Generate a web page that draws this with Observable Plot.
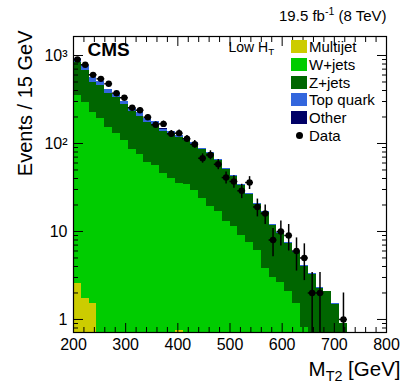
<!DOCTYPE html>
<html><head><meta charset="utf-8">
<script src="https://cdn.jsdelivr.net/npm/d3@7"></script>
<script src="https://cdn.jsdelivr.net/npm/@observablehq/plot@0.6"></script>
<style>
body{margin:0;background:#fff;}
#wrap{position:relative;width:407px;height:392px;font-family:"Liberation Sans",Arial,Helvetica,sans-serif;}
#legend{position:absolute;left:291px;top:40px;font-size:15px;line-height:1;}
#legend .row{position:relative;height:17.8px;}
#legend .box{position:absolute;left:0;top:0;width:16px;height:13px;}
#legend .dot{position:absolute;left:5px;top:3px;width:7px;height:7px;border-radius:50%;background:#000;}
#legend .lab{position:absolute;left:18px;top:-1px;white-space:nowrap;}
</style></head><body><div id="wrap"><div id="legend"></div></div>
<script>
// ---- data (MT2 bins of 15 GeV, low-edge) ----
const binLow = [200,215,230,245,260,275,290,305,320,335,350,365,380,395,410,425,440,455,470,485,500,515,530,545,560,575,590,605,620,635,650,665,680,695,710];
const binWidth = 15;
const multijet = [2.55,1.72,1.5,0,0,0,0,0,0,0,0,0,0,0.75,0,0,0,0,0,0,0,0,0,0,0,0,0,0,0,0,0,0,0,0,0];
const wjets = [348,290,226,191,153,130,107,85,75,61,56,46,40,34,34,29,24,19,17,13,11.4,9.0,7.4,6.1,3.8,3.0,2.6,2.1,1.5,0.8,0,0,0,0,0];
const zjets = [472,380,265,264,213,200,167,145,127,113,110,90,88,81,74,69,61,57,47,38,31,24,18.7,14.2,12.6,8.6,6.9,5.2,4.3,3.2,3.25,2.25,2.07,1.48,0.89];
const topquark = [91,95,75,46,44,29,28,21,21,16,12,10,9,7,6,4,3,2.5,2,1.5,1.2,1,0.8,0.6,0.5,0.3,0.25,0.2,0.15,0.1,0.05,0.05,0.03,0.02,0.01];
const other = [3,2.5,2,1.6,1.4,1.2,1,0.9,0.8,0.7,0.6,0.5,0.45,0.4,0.35,0.3,0.25,0.2,0.18,0.15,0.12,0.1,0.08,0.06,0.05,0.04,0.03,0.02,0.02,0.01,0.01,0.01,0,0,0];
const dataCounts = [901,784,603,543,477,373,331,255,239,199,163,167,129,131,113,98,68,74,58,41,37,29,36,19,16,8,10,9,6,5,2,2,0,0,1];

const seriesNames = ["Multijet","W+jets","Z+jets","Top quark","Other"];
const seriesColors = ["#cccc00","#00cc00","#006600","#3366dd","#000066"];
const seriesValues = [multijet, wjets, zjets, topquark, other];

const xMajor = [200,300,400,500,600,700,800];
const xMinor = [220,240,260,280,320,340,360,380,420,440,460,480,520,540,560,580,620,640,660,680,720,740,760,780];
const yMajor = [1,10,100,1000];
const yMajorLabels = ["1","10","10²","10³"];
const yMinor = [0.8,0.9,2,3,4,5,6,7,8,9,20,30,40,50,60,70,80,90,200,300,400,500,600,700,800,900];

const yMin = 0.711, yMax = 1644;

// ---- stacked rows ----
const stackRows = [];
binLow.forEach((x0, i) => {
  let cum = 0;
  seriesValues.forEach((vals, s) => {
    const lo = cum; cum += vals[i];
    if (vals[i] > 0 && cum > yMin) {
      stackRows.push({s, x1: x0, x2: x0 + binWidth, lo: Math.max(lo, yMin * 0.5), hi: cum});
    }
  });
});
const dataRows = binLow.map((x0, i) => ({x0, xc: x0 + binWidth / 2, n: dataCounts[i]})).filter(d => d.n > 0);

const tickStyle = {stroke: "black", strokeWidth: 1};
const blank = () => "";

const marks = [];
seriesValues.forEach((_, s) => {
  marks.push(Plot.rectY(stackRows.filter(r => r.s === s), {
    x1: "x1", x2: "x2", y1: "lo", y2: "hi", fill: seriesColors[s], clip: true, inset: 0, shapeRendering: "crispEdges"
  }));
});
marks.push(
  Plot.ruleX(dataRows, {x: "xc", y1: d => Math.max(d.n - Math.sqrt(d.n), yMin * 0.5), y2: d => d.n + Math.sqrt(d.n), stroke: "black", strokeWidth: 1.5, clip: true}),
  Plot.ruleY(dataRows, {y: "n", x1: "x0", x2: d => d.x0 + binWidth, stroke: "black", strokeWidth: 1.5, clip: true}),
  Plot.dot(dataRows, {x: "xc", y: "n", r: 3.2, fill: "black", stroke: "none", clip: true}),
  Plot.frame({stroke: "black", strokeWidth: 1.2}),
  // axes: ticks inside, on all four sides
  Plot.axisX(xMajor, {anchor: "bottom", tickSize: -9, tickFormat: blank, label: null, ...tickStyle}),
  Plot.axisX(xMinor, {anchor: "bottom", tickSize: -5, tickFormat: blank, label: null, ...tickStyle}),
  Plot.axisX(xMajor, {anchor: "top", tickSize: -9, tickFormat: blank, label: null, ...tickStyle}),
  Plot.axisX(xMinor, {anchor: "top", tickSize: -5, tickFormat: blank, label: null, ...tickStyle}),
  Plot.axisX(xMajor, {anchor: "bottom", tickSize: 0, tickPadding: 6, fontSize: 16, label: null}),
  Plot.axisY(yMajor, {anchor: "left", tickSize: -10, tickFormat: blank, label: null, ...tickStyle}),
  Plot.axisY(yMinor, {anchor: "left", tickSize: -5, tickFormat: blank, label: null, ...tickStyle}),
  Plot.axisY(yMajor, {anchor: "right", tickSize: -10, tickFormat: blank, label: null, ...tickStyle}),
  Plot.axisY(yMinor, {anchor: "right", tickSize: -5, tickFormat: blank, label: null, ...tickStyle}),
  Plot.axisY(yMajor, {anchor: "left", tickSize: 0, tickPadding: 6, fontSize: 16, label: null,
    tickFormat: d => yMajorLabels[yMajor.indexOf(d)]}),
  // texts
  Plot.text(["19.5 fb^{-1} (8 TeV)"], {frameAnchor: "top-right", textAnchor: "end", lineAnchor: "bottom", dy: -16, fontSize: 15}),
  Plot.text(["CMS"], {frameAnchor: "top-left", textAnchor: "start", lineAnchor: "bottom", dx: 14, dy: 19, fontSize: 19, fontWeight: "bold"}),
  Plot.text(["Low H_{T}"], {frameAnchor: "top-left", textAnchor: "start", lineAnchor: "bottom", dx: 155, dy: 15, fontSize: 14}),
  Plot.text(["Events / 15 GeV"], {frameAnchor: "top-left", textAnchor: "end", lineAnchor: "bottom", rotate: -90, dx: -42, dy: -6, fontSize: 20}),
  Plot.text(["M_{T2} [GeV]"], {frameAnchor: "bottom-right", textAnchor: "end", lineAnchor: "bottom", dx: 14, dy: 43, fontSize: 20.5})
);

const chart = Plot.plot({
  width: 407, height: 392,
  marginLeft: 73, marginRight: 21, marginTop: 36, marginBottom: 60,
  style: {fontFamily: "'Liberation Sans', Arial, Helvetica, sans-serif", fontSize: "16px", background: "white", color: "black"},
  x: {type: "linear", domain: [200, 800]},
  y: {type: "log", domain: [yMin, yMax]},
  marks
});
const wrap = document.getElementById("wrap");
wrap.insertBefore(chart, wrap.firstChild);

// sub/superscript markup  _{..} and ^{..}
d3.select(chart).selectAll("text").each(function() {
  const t = this.textContent;
  if (!/[_^]\{/.test(t)) return;
  const fs = parseFloat(getComputedStyle(this).fontSize) || 16;
  const el = d3.select(this); el.text(null);
  const re = /([_^])\{([^}]*)\}/g; let last = 0, m, shift = 0;
  while ((m = re.exec(t))) {
    if (m.index > last) { el.append("tspan").attr("dy", -shift).text(t.slice(last, m.index)); shift = 0; }
    const s = m[1] === "_" ? 0.28 * fs : -0.4 * fs;
    el.append("tspan").attr("dy", s - shift).attr("font-size", (0.7 * fs) + "px").text(m[2]);
    shift = s; last = re.lastIndex;
  }
  if (last < t.length) el.append("tspan").attr("dy", -shift).text(t.slice(last));
});

// legend
const legend = d3.select("#legend");
seriesNames.forEach((name, s) => {
  const row = legend.append("div").attr("class", "row");
  row.append("div").attr("class", "box").style("background", seriesColors[s]);
  row.append("div").attr("class", "lab").text(name);
});
const drow = legend.append("div").attr("class", "row");
drow.append("div").attr("class", "dot");
drow.append("div").attr("class", "lab").text("Data");
</script></body></html>
